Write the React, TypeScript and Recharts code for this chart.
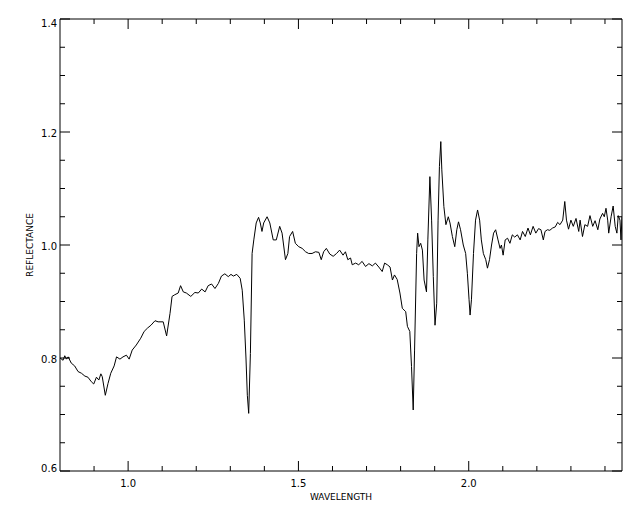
import React from 'react'
import { Line, LineChart, XAxis, YAxis } from 'recharts'

// spectrum
const wavelength = [
    0.800, 0.809, 0.814, 0.819, 0.824, 0.833, 0.843, 0.853, 0.863, 0.873,
    0.882, 0.892, 0.899, 0.907, 0.914, 0.920, 0.924, 0.933, 0.941, 0.949,
    0.959, 0.966, 0.976, 0.985, 0.995, 1.003, 1.012, 1.024, 1.037, 1.047,
    1.057, 1.067, 1.079, 1.088, 1.103, 1.113, 1.123, 1.129, 1.137, 1.147,
    1.154, 1.162, 1.171, 1.184, 1.196, 1.206, 1.216, 1.226, 1.235, 1.245,
    1.255, 1.265, 1.274, 1.284, 1.294, 1.302, 1.309, 1.319, 1.329, 1.335,
    1.341, 1.346, 1.350, 1.354, 1.359, 1.364, 1.369, 1.376, 1.383, 1.388,
    1.393, 1.398, 1.408, 1.416, 1.426, 1.435, 1.445, 1.452, 1.462, 1.469,
    1.474, 1.483, 1.491, 1.501, 1.511, 1.521, 1.530, 1.540, 1.550, 1.560,
    1.567, 1.574, 1.582, 1.592, 1.602, 1.612, 1.621, 1.631, 1.638, 1.645,
    1.653, 1.658, 1.668, 1.677, 1.687, 1.697, 1.707, 1.717, 1.726, 1.736,
    1.746, 1.753, 1.761, 1.769, 1.776, 1.782, 1.790, 1.798, 1.805, 1.815,
    1.820, 1.827, 1.832, 1.837, 1.841, 1.847, 1.850, 1.854, 1.859, 1.864,
    1.869, 1.876, 1.880, 1.886, 1.891, 1.896, 1.901, 1.906, 1.910, 1.914,
    1.918, 1.921, 1.927, 1.933, 1.940, 1.945, 1.952, 1.959, 1.965, 1.970,
    1.976, 1.984, 1.991, 1.996, 2.001, 2.004, 2.008, 2.014, 2.020, 2.026,
    2.032, 2.037, 2.043, 2.050, 2.055, 2.061, 2.067, 2.073, 2.079, 2.086,
    2.092, 2.096, 2.101, 2.107, 2.114, 2.121, 2.128, 2.135, 2.143, 2.151,
    2.158, 2.166, 2.174, 2.181, 2.189, 2.197, 2.205, 2.212, 2.219, 2.224,
    2.231, 2.238, 2.246, 2.254, 2.261, 2.268, 2.276, 2.282, 2.287, 2.293,
    2.300, 2.307, 2.315, 2.323, 2.327, 2.334, 2.341, 2.349, 2.356, 2.364,
    2.371, 2.379, 2.385, 2.393, 2.398, 2.403, 2.408, 2.411, 2.418, 2.424,
    2.430, 2.435, 2.439, 2.444, 2.447, 2.450,
]

const reflectance = [
    0.800, 0.796, 0.804, 0.798, 0.802, 0.791, 0.786, 0.776, 0.773, 0.768,
    0.766, 0.758, 0.754, 0.766, 0.761, 0.772, 0.767, 0.734, 0.755, 0.773,
    0.786, 0.802, 0.798, 0.802, 0.805, 0.798, 0.814, 0.823, 0.835, 0.847,
    0.853, 0.858, 0.866, 0.864, 0.864, 0.839, 0.879, 0.909, 0.912, 0.915,
    0.928, 0.917, 0.915, 0.909, 0.916, 0.915, 0.922, 0.917, 0.928, 0.931,
    0.923, 0.932, 0.945, 0.949, 0.944, 0.948, 0.945, 0.948, 0.941, 0.920,
    0.867, 0.800, 0.734, 0.702, 0.808, 0.985, 1.009, 1.039, 1.049, 1.039,
    1.024, 1.039, 1.050, 1.039, 1.009, 1.009, 1.033, 1.021, 0.974, 0.985,
    1.015, 1.024, 1.003, 0.997, 0.994, 0.988, 0.985, 0.985, 0.988, 0.987,
    0.974, 0.988, 0.994, 0.984, 0.980, 0.985, 0.991, 0.982, 0.988, 0.974,
    0.977, 0.965, 0.968, 0.965, 0.971, 0.962, 0.967, 0.963, 0.968, 0.961,
    0.953, 0.968, 0.965, 0.961, 0.938, 0.947, 0.939, 0.915, 0.888, 0.882,
    0.856, 0.847, 0.785, 0.708, 0.814, 0.985, 1.021, 0.997, 1.003, 0.991,
    0.938, 0.917, 1.009, 1.121, 1.044, 0.944, 0.858, 0.897, 1.044, 1.139,
    1.183, 1.133, 1.068, 1.036, 1.050, 1.039, 1.015, 0.997, 1.027, 1.041,
    1.027, 1.000, 0.985, 0.950, 0.903, 0.876, 0.903, 0.985, 1.044, 1.062,
    1.044, 1.009, 0.985, 0.974, 0.959, 0.974, 1.000, 1.021, 1.027, 1.009,
    0.994, 1.000, 0.982, 1.009, 1.012, 1.003, 1.018, 1.014, 1.018, 1.009,
    1.024, 1.015, 1.030, 1.018, 1.033, 1.021, 1.029, 1.027, 1.009, 1.024,
    1.027, 1.026, 1.030, 1.032, 1.040, 1.036, 1.044, 1.077, 1.044, 1.028,
    1.044, 1.033, 1.047, 1.024, 1.044, 1.015, 1.036, 1.033, 1.052, 1.033,
    1.043, 1.027, 1.046, 1.056, 1.050, 1.065, 1.044, 1.021, 1.050, 1.069,
    1.033, 1.021, 1.052, 1.044, 1.009, 1.050,
]

const xTicks = [0.9, 1.0, 1.1, 1.2, 1.3, 1.4, 1.5, 1.6, 1.7, 1.8, 1.9, 2.0, 2.1, 2.2, 2.3, 2.4]
const xLabels = [1.0, 1.5, 2.0]
const yTicks = [0.6, 0.65, 0.7, 0.75, 0.8, 0.85, 0.9, 0.95, 1.0, 1.05, 1.1, 1.15, 1.2, 1.25, 1.3, 1.35, 1.4]
const yLabels = [0.6, 0.8, 1.0, 1.2, 1.4]

const data = wavelength.map((w, i) => ({ w, r: reflectance[i] }))

const FONT = '"DejaVu Sans", sans-serif'
const isMajor = (list: number[], v: number) => list.some(m => Math.abs(m - v) < 1e-6)

const XTick = (props: any) => {
    const { x, y, payload, side } = props
    const major = isMajor(xLabels, payload.value)
    const len = major ? 10 : 5
    const dir = side === 'bottom' ? -1 : 1
    return (
        <g>
            <line x1={x} x2={x} y1={y} y2={y + dir * len} stroke='#000' />
            {side === 'bottom' && major && (
                <text x={x} y={y + 16} textAnchor='middle' fontSize={10} fontFamily={FONT} fill='#000'>
                    {payload.value.toFixed(1)}
                </text>
            )}
        </g>
    )
}

const YTick = (props: any) => {
    const { x, y, payload, side } = props
    const major = isMajor(yLabels, payload.value)
    const len = major ? 10 : 5
    const dir = side === 'left' ? 1 : -1
    const ty = Math.min(Math.max(y + 1, 23), 468)
    return (
        <g>
            <line x1={x} x2={x + dir * len} y1={y} y2={y} stroke='#000' />
            {side === 'left' && major && (
                <text x={x - 3} y={ty} dy='0.35em' textAnchor='end' fontSize={10} fontFamily={FONT} fill='#000'>
                    {payload.value.toFixed(1)}
                </text>
            )}
        </g>
    )
}

const App = () => {
    return (
        <div style={{ position: 'absolute', left: 0, top: 0, background: '#fff' }}>
            <LineChart width={640} height={512} data={data} margin={{ top: 0, right: 0, bottom: 0, left: 0 }}>
                <XAxis
                    xAxisId='bottom'
                    dataKey='w'
                    type='number'
                    domain={[0.8, 2.45]}
                    allowDataOverflow
                    ticks={xTicks}
                    interval={0}
                    height={41}
                    tickSize={0}
                    tickMargin={0}
                    tickLine={false}
                    axisLine={{ stroke: '#000' }}
                    tick={<XTick side='bottom' />}
                    label={{ value: 'WAVELENGTH', position: 'insideBottom', offset: 12, fontSize: 9, fontFamily: FONT, fill: '#000' }}
                />
                <XAxis
                    xAxisId='top'
                    orientation='top'
                    dataKey='w'
                    type='number'
                    domain={[0.8, 2.45]}
                    allowDataOverflow
                    ticks={xTicks}
                    interval={0}
                    height={19}
                    tickSize={0}
                    tickMargin={0}
                    tickLine={false}
                    axisLine={{ stroke: '#000' }}
                    tick={<XTick side='top' />}
                />
                <YAxis
                    yAxisId='left'
                    type='number'
                    domain={[0.6, 1.4]}
                    allowDataOverflow
                    ticks={yTicks}
                    interval={0}
                    width={60}
                    tickSize={0}
                    tickMargin={0}
                    tickLine={false}
                    axisLine={{ stroke: '#000' }}
                    tick={<YTick side='left' />}
                    label={{ value: 'REFLECTANCE', angle: -90, position: 'center', dx: 0, fontSize: 9, fontFamily: FONT, fill: '#000' }}
                />
                <YAxis
                    yAxisId='right'
                    orientation='right'
                    type='number'
                    domain={[0.6, 1.4]}
                    allowDataOverflow
                    ticks={yTicks}
                    interval={0}
                    width={18}
                    tickSize={0}
                    tickMargin={0}
                    tickLine={false}
                    axisLine={{ stroke: '#000' }}
                    tick={<YTick side='right' />}
                />
                <Line
                    xAxisId='bottom'
                    yAxisId='left'
                    dataKey='r'
                    type='linear'
                    stroke='#000'
                    strokeWidth={1}
                    dot={false}
                    activeDot={false}
                    isAnimationActive={false}
                />
            </LineChart>
        </div>
    )
}

export default App
